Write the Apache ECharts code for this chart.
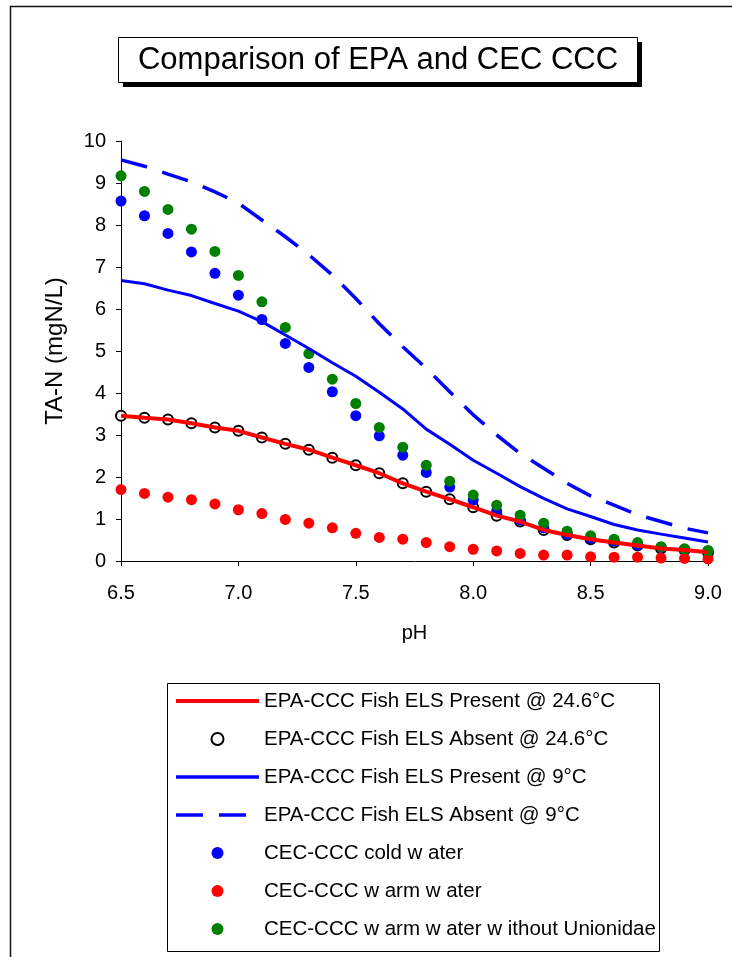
<!DOCTYPE html>
<html>
<head>
<meta charset="utf-8">
<script src="https://cdn.jsdelivr.net/npm/echarts@6/dist/echarts.min.js"></script>
<style>
  html, body { margin: 0; padding: 0; background: #fff; }
  #main { width: 732px; height: 957px; }
</style>
</head>
<body>
<div id="main"></div>
<script>
var pH = [6.5, 6.6, 6.7, 6.8, 6.9, 7.0, 7.1, 7.2, 7.3, 7.4, 7.5, 7.6, 7.7,
          7.8, 7.9, 8.0, 8.1, 8.2, 8.3, 8.4, 8.5, 8.6, 8.7, 8.8, 8.9, 9.0];

var epaPresentWarm = [3.46, 3.41, 3.37, 3.28, 3.18, 3.10, 2.94, 2.79, 2.65, 2.46, 2.28, 2.09, 1.85,
                      1.65, 1.47, 1.28, 1.08, 0.94, 0.74, 0.62, 0.52, 0.44, 0.37, 0.30, 0.26, 0.21];
var epaAbsentWarm = [3.46, 3.41, 3.37, 3.28, 3.18, 3.10, 2.94, 2.79, 2.65, 2.46, 2.28, 2.09, 1.85,
                     1.65, 1.47, 1.28, 1.08, 0.94, 0.74, 0.62, 0.52, 0.44, 0.37, 0.30, 0.26, 0.21];
var epaPresentCold = [6.68, 6.60, 6.45, 6.32, 6.13, 5.95, 5.70, 5.38, 5.06, 4.72, 4.40, 4.02, 3.62,
                      3.14, 2.78, 2.40, 2.09, 1.77, 1.49, 1.24, 1.06, 0.87, 0.74, 0.64, 0.55, 0.45];
var epaAbsentCold = [9.55, 9.40, 9.21, 9.03, 8.79, 8.52, 8.12, 7.72, 7.29, 6.81, 6.25, 5.65, 5.10,
                     4.59, 4.03, 3.48, 3.00, 2.56, 2.21, 1.85, 1.55, 1.33, 1.10, 0.94, 0.78, 0.67];
var cecCold = [8.57, 8.22, 7.80, 7.36, 6.85, 6.33, 5.75, 5.18, 4.61, 4.03, 3.46, 2.98, 2.52,
               2.11, 1.76, 1.45, 1.19, 0.98, 0.79, 0.64, 0.54, 0.48, 0.38, 0.33, 0.28, 0.24];
var cecWarm = [1.70, 1.61, 1.52, 1.46, 1.36, 1.22, 1.13, 0.99, 0.90, 0.79, 0.66, 0.56, 0.52,
               0.44, 0.34, 0.28, 0.24, 0.18, 0.14, 0.14, 0.10, 0.09, 0.09, 0.07, 0.06, 0.05];
var cecWarmNoUnion = [9.17, 8.80, 8.37, 7.90, 7.37, 6.80, 6.17, 5.56, 4.94, 4.33, 3.75, 3.18, 2.71,
                      2.28, 1.90, 1.57, 1.33, 1.09, 0.90, 0.71, 0.60, 0.52, 0.44, 0.34, 0.29, 0.25];

var names = [
    'EPA-CCC Fish ELS Present @ 24.6°C',
    'EPA-CCC Fish ELS Absent @ 24.6°C',
    'EPA-CCC Fish ELS Present @ 9°C',
    'EPA-CCC Fish ELS Absent @ 9°C',
    'CEC-CCC cold w ater',
    'CEC-CCC w arm w ater',
    'CEC-CCC w arm w ater w ithout Unionidae'
];

function pairs(vals) {
    return pH.map(function (x, i) { return [x, vals[i]]; });
}

var FONT = 'Liberation Sans, Arial, sans-serif';
var myChart = echarts.init(document.getElementById('main'));

// line series get a plain line in the legend (no symbol)
var legendData = [
    { name: names[0], itemStyle: { opacity: 0 }, lineStyle: { width: 4, color: '#ff0000' } },
    { name: names[1] },
    { name: names[2], itemStyle: { opacity: 0 }, lineStyle: { width: 3.5, color: '#0000ff' } },
    { name: names[3], itemStyle: { opacity: 0 }, lineStyle: { width: 3.5, color: '#0000ff', type: [27, 16] } },
    { name: names[4] },
    { name: names[5] },
    { name: names[6] }
];

myChart.setOption({
    animation: false,
    backgroundColor: '#fff',
    textStyle: { fontFamily: FONT, color: '#000' },
    graphic: [
        // outer frame (top + left visible)
        {
            type: 'polyline',
            shape: { points: [[10.5, 957], [10.5, 6.5], [732, 6.5]] },
            style: { stroke: '#111', lineWidth: 1.5, fill: null }
        },
        // title box with shadow
        {
            type: 'rect',
            shape: { x: 123, y: 42, width: 519, height: 45 },
            style: { fill: '#000' }
        },
        {
            type: 'rect',
            shape: { x: 118.5, y: 37.5, width: 519, height: 45 },
            style: { fill: '#fff', stroke: '#000', lineWidth: 1 }
        },
        {
            type: 'text',
            x: 378, y: 60,
            style: {
                text: 'Comparison of EPA and CEC CCC',
                fontFamily: FONT, fontSize: 31, fill: '#000',
                align: 'center', verticalAlign: 'middle'
            }
        },
        // legend box
        {
            type: 'rect',
            shape: { x: 167.5, y: 683.5, width: 492, height: 268 },
            style: { fill: null, stroke: '#000', lineWidth: 1 }
        }
    ],
    grid: {
        left: 121,
        top: 141,
        right: 24,
        bottom: 396,
        containLabel: false
    },
    legend: {
        orient: 'vertical',
        left: 169,
        top: 685,
        itemWidth: 83,
        itemHeight: 12,
        itemGap: 16,
        textStyle: { fontSize: 20.5, lineHeight: 22, color: '#000', fontFamily: FONT },
        data: legendData
    },
    xAxis: {
        type: 'value',
        min: 6.5,
        max: 9.0,
        interval: 0.5,
        name: 'pH',
        nameLocation: 'middle',
        nameGap: 62,
        nameTextStyle: { fontSize: 20, color: '#000' },
        axisLine: { lineStyle: { color: '#000', width: 1 } },
        axisTick: { show: true, length: 5, lineStyle: { color: '#000' } },
        axisLabel: {
            fontSize: 20, color: '#000', margin: 22,
            formatter: function (v) { return v.toFixed(1); }
        },
        splitLine: { show: false }
    },
    yAxis: {
        type: 'value',
        min: 0,
        max: 10,
        interval: 1,
        name: 'TA-N (mgN/L)',
        nameLocation: 'middle',
        nameGap: 54,
        nameTextStyle: { fontSize: 24, color: '#000' },
        axisLine: { show: true, lineStyle: { color: '#000', width: 1 } },
        axisTick: { show: true, length: 5, lineStyle: { color: '#000' } },
        axisLabel: { fontSize: 20, color: '#000', margin: 15 },
        splitLine: { show: false }
    },
    series: [
        {
            name: names[0],
            type: 'line',
            data: pairs(epaPresentWarm),
            symbol: 'none',
            lineStyle: { color: '#ff0000', width: 4 },
            itemStyle: { color: '#ff0000' }
        },
        {
            name: names[1],
            type: 'scatter',
            data: pairs(epaAbsentWarm),
            symbol: 'circle',
            symbolSize: 10,
            clip: false,
            itemStyle: { color: '#fff', borderColor: '#000', borderWidth: 2, opacity: 1 }
        },
        {
            name: names[2],
            type: 'line',
            data: pairs(epaPresentCold),
            symbol: 'none',
            lineStyle: { color: '#0000ff', width: 3 },
            itemStyle: { color: '#0000ff' }
        },
        {
            name: names[3],
            type: 'line',
            data: pairs(epaAbsentCold),
            symbol: 'none',
            lineStyle: { color: '#0000ff', width: 3.5, type: [27, 16] },
            itemStyle: { color: '#0000ff' }
        },
        {
            name: names[4],
            type: 'scatter',
            data: pairs(cecCold),
            symbolSize: 11,
            clip: false,
            itemStyle: { color: '#0000ff', opacity: 1 }
        },
        {
            name: names[5],
            type: 'scatter',
            data: pairs(cecWarm),
            symbolSize: 11,
            clip: false,
            itemStyle: { color: '#ff0000', opacity: 1 }
        },
        {
            name: names[6],
            type: 'scatter',
            data: pairs(cecWarmNoUnion),
            symbolSize: 11,
            clip: false,
            itemStyle: { color: '#008000', opacity: 1 }
        }
    ]
});
</script>
</body>
</html>
